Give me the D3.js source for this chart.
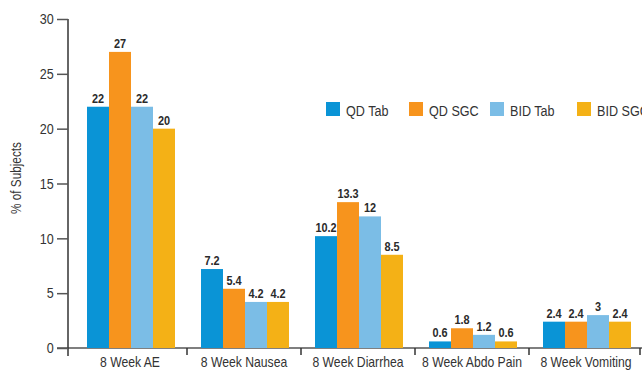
<!DOCTYPE html>
<html>
<head>
<meta charset="utf-8">
<script src="https://cdn.jsdelivr.net/npm/d3@7"></script>
<style>
  html, body { margin: 0; padding: 0; background: #fff; }
  svg { display: block; }
  text { font-family: "Liberation Sans Narrow", "Arial Narrow", "Liberation Sans", Arial, sans-serif; fill: #333; }
</style>
</head>
<body>
<svg id="chart" width="642" height="371"></svg>
<script>
// Adverse events at 8 weeks by dosing regimen
const categories = ["8 Week AE", "8 Week Nausea", "8 Week Diarrhea", "8 Week Abdo Pain", "8 Week Vomiting"];
const seriesNames = ["QD Tab", "QD SGC", "BID Tab", "BID SGC"];
const qdTab  = [22, 7.2, 10.2, 0.6, 2.4];
const qdSgc  = [27, 5.4, 13.3, 1.8, 2.4];
const bidTab = [22, 4.2, 12, 1.2, 3];
const bidSgc = [20, 4.2, 8.5, 0.6, 2.4];
const yTicks = [0, 5, 10, 15, 20, 25, 30];
const colors = ["#0a94d6", "#f7941d", "#7bbde6", "#f4b116"];

const seriesValues = [qdTab, qdSgc, bidTab, bidSgc];
const rows = categories.map((c, i) => ({
  category: c,
  values: seriesNames.map((s, j) => ({ series: s, value: seriesValues[j][i], color: colors[j] }))
}));

// horizontal squeeze that gives the regular face a condensed look
const SQ = 0.84;

const svg = d3.select("#chart");

const y = d3.scaleLinear().domain([0, 30]).range([348, 19]);
const x0 = d3.scaleBand().domain(categories).range([73, 643]).padding(0);
const x1 = d3.scaleBand().domain(seriesNames).range([14, 102]).padding(0);

// horizontal baseline
svg.append("line")
  .attr("x1", 57).attr("x2", 642)
  .attr("y1", y(0)).attr("y2", y(0))
  .attr("stroke", "#555").attr("stroke-width", 1.5);

// bars
const groups = svg.selectAll("g.group").data(rows).enter().append("g")
  .attr("class", "group")
  .attr("transform", d => `translate(${x0(d.category)},0)`);

groups.selectAll("rect").data(d => d.values).enter().append("rect")
  .attr("x", d => x1(d.series))
  .attr("width", x1.bandwidth())
  .attr("y", d => y(d.value))
  .attr("height", d => y(0) - y(d.value))
  .attr("fill", d => d.color);

groups.selectAll("text.val").data(d => d.values).enter().append("text")
  .attr("class", "val")
  .attr("transform", d => `translate(${x1(d.series) + x1.bandwidth() / 2},${y(d.value) - 4}) scale(${SQ},1)`)
  .attr("text-anchor", "middle")
  .attr("font-size", 13)
  .attr("font-weight", "bold")
  .style("fill", "#2b2b2b")
  .text(d => d.value);

// y axis
const yAxis = d3.axisLeft(y).tickValues(yTicks).tickSize(11).tickPadding(6);
const yg = svg.append("g").attr("transform", "translate(68,0)").call(yAxis);
yg.select(".domain").attr("stroke", "#333").attr("stroke-width", 1.5)
  .attr("d", `M0,${y(30)}V${y(0) + 8}`);
yg.selectAll(".tick line").attr("stroke", "#555").attr("stroke-width", 1.5);
yg.selectAll(".tick text").attr("font-size", 15).style("fill", "#333")
  .attr("transform", `scale(${SQ},1)`)
  .attr("font-family", "\"Liberation Sans Narrow\", \"Liberation Sans\", Arial, sans-serif");

// category separators below baseline
const seps = categories.map(c => x0(c) + x0.bandwidth());
svg.selectAll("line.sep").data(seps).enter().append("line")
  .attr("class", "sep")
  .attr("x1", d => Math.min(d, 640)).attr("x2", d => Math.min(d, 640))
  .attr("y1", y(0)).attr("y2", y(0) + 7)
  .attr("stroke", "#333").attr("stroke-width", 1.5);

// category labels
svg.selectAll("text.cat").data(categories).enter().append("text")
  .attr("class", "cat")
  .attr("transform", d => `translate(${x0(d) + x0.bandwidth() / 2},367) scale(${SQ},1)`)
  .attr("text-anchor", "middle")
  .attr("font-size", 14.5)
  .text(d => d);

// y axis title
svg.append("text")
  .attr("transform", `translate(21,178) rotate(-90) scale(${SQ},1)`)
  .attr("text-anchor", "middle")
  .attr("font-size", 14)
  .text("% of Subjects");

// legend
const legendX = [326, 409, 490, 577];
const legend = svg.selectAll("g.legend").data(seriesNames).enter().append("g")
  .attr("class", "legend")
  .attr("transform", (d, i) => `translate(${legendX[i]},102)`);
legend.append("rect").attr("width", 14).attr("height", 14).attr("fill", (d, i) => colors[i]);
legend.append("text")
  .attr("transform", `translate(20,14) scale(${SQ},1)`)
  .attr("font-size", 15)
  .text(d => d);
</script>
</body>
</html>
